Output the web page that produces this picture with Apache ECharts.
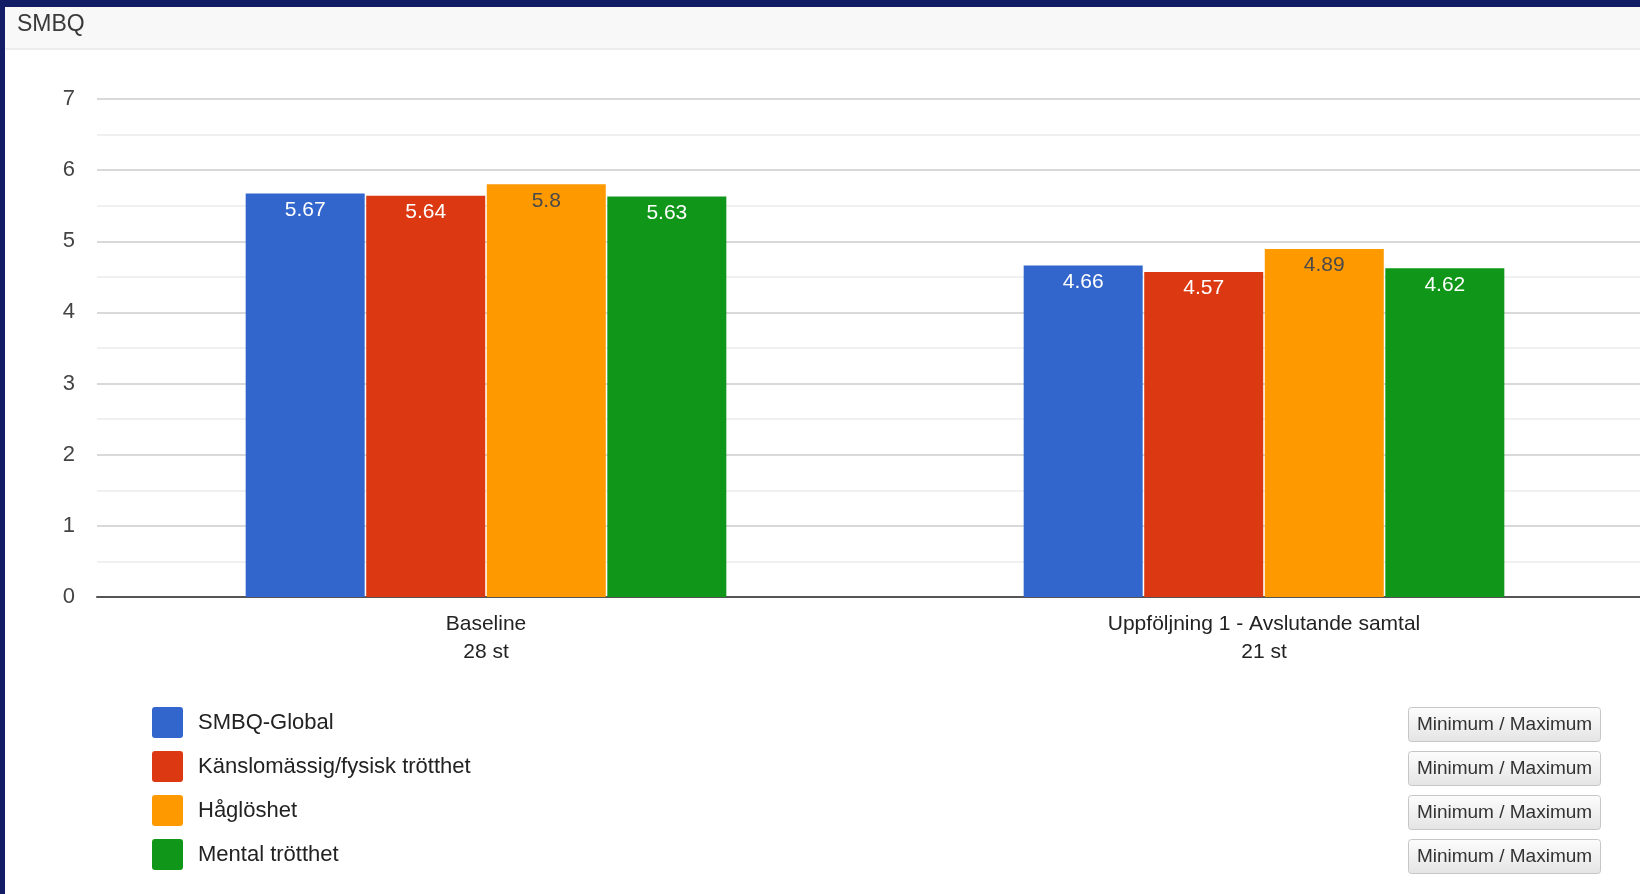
<!DOCTYPE html>
<html>
<head>
<meta charset="utf-8">
<title>SMBQ</title>
<script src="https://cdn.jsdelivr.net/npm/echarts@6/dist/echarts.min.js"></script>
<style>
  html, body { margin: 0; padding: 0; background: #fff; }
  #chart { width: 1640px; height: 894px; }
</style>
</head>
<body>
<div id="chart"></div>
<script>
// Measurement occasions (with number of respondents)
const categories = ['Baseline\n28 st', 'Uppföljning 1 - Avslutande samtal\n21 st'];

// Mean scores per subscale
const seriesNames = ['SMBQ-Global', 'Känslomässig/fysisk trötthet', 'Håglöshet', 'Mental trötthet'];
const smbqGlobal = [5.67, 4.66];
const kanslomassig = [5.64, 4.57];
const haglos = [5.8, 4.89];
const mental = [5.63, 4.62];

const yTicks = [0, 1, 2, 3, 4, 5, 6, 7];
const chartTitle = 'SMBQ';
const buttonText = 'Minimum / Maximum';

const colors = ['#3366cc', '#dc3912', '#ff9900', '#109618'];
const labelColors = ['#ffffff', '#ffffff', '#4a4a4a', '#ffffff'];
const values = [smbqGlobal, kanslomassig, haglos, mental];
const FONT = 'Arial, "Liberation Sans", sans-serif';

const series = seriesNames.map((name, i) => ({
  name: name,
  type: 'bar',
  data: values[i],
  barWidth: 119,
  barGap: '1.3%',
  itemStyle: { color: colors[i] },
  label: {
    show: true,
    position: 'insideTop',
    distance: 6,
    color: labelColors[i],
    fontFamily: FONT,
    fontSize: 21,
    lineHeight: 21
  }
}));

// Button stack on the right, one per legend row
const buttonTops = [707, 751, 795, 839];
const buttons = buttonTops.map(top => ({
  type: 'group',
  left: 1408,
  top: top,
  children: [
    {
      type: 'rect',
      shape: { x: 0, y: 0, width: 192, height: 34, r: 3 },
      style: {
        fill: new echarts.graphic.LinearGradient(0, 0, 0, 1, [
          { offset: 0, color: '#fdfdfd' },
          { offset: 1, color: '#e4e4e4' }
        ]),
        stroke: '#c6c6c6',
        lineWidth: 1
      }
    },
    {
      type: 'text',
      x: 96,
      y: 17,
      style: {
        text: buttonText,
        fontFamily: FONT,
        fontSize: 19,
        fill: '#333',
        align: 'center',
        verticalAlign: 'middle'
      }
    }
  ]
}));

const chart = echarts.init(document.getElementById('chart'), null, { renderer: 'canvas' });

chart.setOption({
  animation: false,
  backgroundColor: '#ffffff',
  textStyle: { fontFamily: FONT },
  grid: { left: 97, top: 99, width: 1556, bottom: 297, containLabel: false, outerBoundsMode: 'none' },
  legend: {
    orient: 'vertical',
    left: 152,
    top: 707,
    padding: 0,
    itemWidth: 31,
    itemHeight: 31,
    itemGap: 13,
    icon: 'path://M3,0H28Q31,0 31,3V28Q31,31 28,31H3Q0,31 0,28V3Q0,0 3,0Z',
    selectedMode: false,
    textStyle: { fontFamily: FONT, fontSize: 22, color: '#222', padding: [0, 0, 0, 10] },
    data: seriesNames
  },
  xAxis: {
    type: 'category',
    data: categories,
    axisTick: { show: false },
    axisLine: { lineStyle: { color: '#555', width: 2 } },
    axisLabel: {
      fontFamily: FONT,
      fontSize: 21,
      lineHeight: 28,
      color: '#222',
      margin: 13
    }
  },
  yAxis: {
    type: 'value',
    min: yTicks[0],
    max: yTicks[yTicks.length - 1],
    interval: 1,
    axisLine: { show: false },
    axisTick: { show: false },
    axisLabel: { fontFamily: FONT, fontSize: 22, color: '#444', margin: 22 },
    splitLine: { lineStyle: { color: '#cccccc', width: 1.5 } },
    minorTick: { show: false, splitNumber: 2 },
    minorSplitLine: { show: true, lineStyle: { color: '#ebebeb', width: 1.5 } }
  },
  series: series,
  graphic: [
    // page frame and panel header
    { type: 'rect', left: 0, top: 0, shape: { width: 1640, height: 7 }, style: { fill: '#131d66' }, z: 10 },
    { type: 'rect', left: 0, top: 0, shape: { width: 5, height: 894 }, style: { fill: '#131d66' }, z: 10 },
    { type: 'rect', left: 5, top: 7, shape: { width: 1635, height: 42 }, style: { fill: '#f8f8f8' }, z: 9 },
    { type: 'rect', left: 5, top: 48, shape: { width: 1635, height: 2 }, style: { fill: '#ececec' }, z: 9 },
    {
      type: 'text', left: 17, top: 13, z: 11,
      style: { text: chartTitle, fontFamily: FONT, fontSize: 23, fill: '#3a3a3a' }
    }
  ].concat(buttons)
});
</script>
</body>
</html>
